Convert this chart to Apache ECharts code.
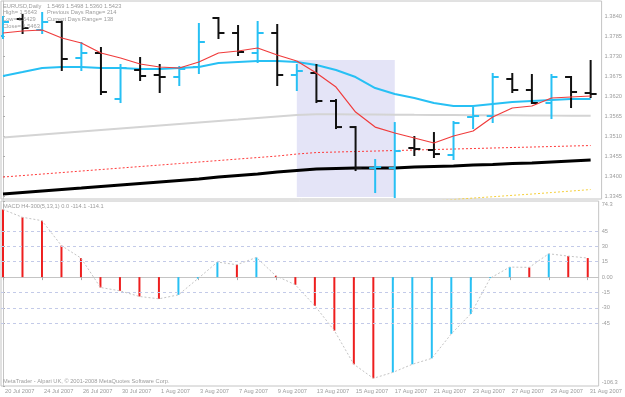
<!DOCTYPE html>
<html><head><meta charset="utf-8">
<script src="https://cdn.jsdelivr.net/npm/echarts@6.0.0/dist/echarts.min.js"></script>
<style>html,body{margin:0;padding:0;background:#fff}#c{width:625px;height:397px}</style>
</head><body><div id="c"></div>
<script>
// ---------- data ----------
const dates = ['20 Jul 2007','23 Jul 2007','24 Jul 2007','25 Jul 2007','26 Jul 2007','27 Jul 2007','30 Jul 2007','31 Jul 2007',
  '1 Aug 2007','2 Aug 2007','3 Aug 2007','6 Aug 2007','7 Aug 2007','8 Aug 2007','9 Aug 2007','10 Aug 2007',
  '13 Aug 2007','14 Aug 2007','15 Aug 2007','16 Aug 2007','17 Aug 2007','20 Aug 2007','21 Aug 2007','22 Aug 2007',
  '23 Aug 2007','24 Aug 2007','27 Aug 2007','28 Aug 2007','29 Aug 2007','30 Aug 2007','31 Aug 2007'];

const openP  = [1.37857,1.38323,1.38021,1.38241,1.37253,1.37391,1.36129,1.36924,1.36787,1.36732,1.37007,1.38351,1.37939,1.37391,1.37939,1.36787,1.36842,1.36074,1.35360,1.34236,1.34236,1.34785,1.34730,1.34593,1.35635,1.35662,1.36677,1.36376,1.36019,1.36732,1.36293];
const highP  = [1.38378,1.38433,1.38488,1.38250,1.37665,1.37528,1.37061,1.37253,1.37061,1.37007,1.38186,1.38351,1.38131,1.38241,1.38159,1.37061,1.37061,1.36101,1.35360,1.34455,1.35470,1.35086,1.35196,1.35498,1.35882,1.36815,1.36815,1.36787,1.36787,1.36732,1.37171];
const lowP   = [1.37802,1.37939,1.37939,1.36924,1.36924,1.36266,1.36046,1.36650,1.36321,1.36513,1.36842,1.37802,1.37336,1.37144,1.36513,1.36376,1.36046,1.35333,1.34181,1.33578,1.33441,1.34593,1.34538,1.34483,1.35333,1.35498,1.36321,1.36019,1.35607,1.35909,1.36184];
const closeP = [1.38241,1.38076,1.38241,1.37226,1.37391,1.36321,1.36979,1.36760,1.36732,1.36952,1.37692,1.37939,1.37418,1.37939,1.36787,1.36897,1.36074,1.35360,1.34236,1.34263,1.34702,1.34757,1.34620,1.35470,1.35662,1.36732,1.36376,1.36019,1.36732,1.36321,1.36266];

const maRed    = [1.37939,1.37994,1.38021,1.37802,1.37665,1.37391,1.37253,1.37089,1.37007,1.36979,1.37144,1.37391,1.37445,1.37528,1.37336,1.37171,1.36842,1.36458,1.35772,1.35360,1.35196,1.35059,1.34922,1.35114,1.35251,1.35635,1.35882,1.35937,1.36156,1.36184,1.36211];
const maCyan   = [1.36760,1.36869,1.36979,1.37007,1.37007,1.36979,1.36979,1.36952,1.36952,1.36979,1.37007,1.37116,1.37144,1.37171,1.37171,1.37144,1.37061,1.36924,1.36732,1.36430,1.36266,1.36156,1.36019,1.35937,1.35937,1.35992,1.36046,1.36074,1.36101,1.36129,1.36129];
const maGray   = [1.35073,1.35114,1.35155,1.35196,1.35237,1.35278,1.35320,1.35361,1.35402,1.35443,1.35484,1.35525,1.35566,1.35608,1.35649,1.35690,1.35709,1.35709,1.35706,1.35703,1.35698,1.35695,1.35693,1.35690,1.35687,1.35684,1.35682,1.35679,1.35676,1.35673,1.35671];
const maRedDot = [1.33989,1.34030,1.34071,1.34112,1.34154,1.34195,1.34236,1.34277,1.34318,1.34359,1.34401,1.34442,1.34483,1.34524,1.34565,1.34620,1.34661,1.34675,1.34689,1.34702,1.34716,1.34730,1.34744,1.34757,1.34771,1.34785,1.34799,1.34812,1.34826,1.34840,1.34853];
const maBlack  = [1.33523,1.33564,1.33605,1.33646,1.33687,1.33729,1.33770,1.33811,1.33852,1.33893,1.33934,1.33989,1.34030,1.34071,1.34126,1.34167,1.34209,1.34222,1.34236,1.34236,1.34236,1.34263,1.34277,1.34291,1.34318,1.34332,1.34359,1.34373,1.34401,1.34428,1.34455];
const maYellow = [null,null,null,null,null,null,null,null,null,null,null,null,null,null,null,null,null,null,null,null,null,1.33290,1.33331,1.33372,1.33413,1.33449,1.33487,1.33523,1.33564,1.33605,1.33646];

const macd       = [66,58.4,55.1,30.7,18.6,-10.1,-13.4,-18.9,-21.2,-17.3,-1.5,14.7,12.1,19.2,1.3,-7.5,-28,-52.2,-85.1,-98.8,-93,-85.1,-79.3,-55.4,-35.9,-1,9.8,9.5,22.8,20.5,18.6];
const macdSignal = [66,58.4,55.1,30.7,18.6,-10.1,-13.4,-18.9,-21.2,-17.3,-1.5,14.7,12.1,19.2,1.3,-7.5,-28,-52.2,-85.1,-98.8,-93,-85.1,-79.3,-55.4,-35.9,-1,9.8,9.5,22.8,20.5,18.6];

const priceTicks = [1.3840,1.3785,1.3730,1.3675,1.3620,1.3565,1.3510,1.3455,1.3400,1.3345];
const macdTicks  = [74.3,45,30,15,0,-15,-30,-45,-106.3];
const macdLevels = [45,30,15,-15,-30,-45];
const dateLabelIdx = [0,2,4,6,8,10,12,14,16,18,20,22,24,26,28,30];

const shade = {from: 15, to: 20, top: 1.3720, bottom: 1.3344};

const headerLeft  = ['EURUSD,Daily','High= 1.5643','Low= 1.5429','Close= 1.5463'];
const headerRight = ['1.5469 1.5498 1.5360 1.5423','Previous Days Range= 214','Current Days Range= 138'];
const macdTitle = 'MACD H4-300(5,13,1) 0.0 -114.1 -114.1';
const footer = 'MetaTrader - Alpari UK, \u00A9 2001-2008 MetaQuotes Software Corp.';

// ---------- styles ----------
const CYAN = '#27c0f4', BLACK = '#111', RED = '#ee1e1e', TXT = '#9c9c9c', BORDER = '#c4c4c4';
const FONT = 'Liberation Sans';
const FS = 5.7;

const pair = arr => arr.map((v, i) => [i, v == null ? '-' : v]);
const ohlc = dates.map((d, i) => [i, openP[i], highP[i], lowP[i], closeP[i]]);
const macdData = macd.map((v, i) => ({
  value: [i, v],
  itemStyle: {color: (i > 0 && v > macd[i - 1]) ? CYAN : RED}
}));

const X_MIN = -0.102, X_MAX = 30.56;
const macdMaxT = macdTicks[0], macdMinT = macdTicks[macdTicks.length - 1];

const option = {
  animation: false,
  backgroundColor: '#fff',
  textStyle: {fontFamily: FONT},
  title: [
    {left: 3, top: 2.5, padding: 0, text: headerLeft.join('\n'),
     textStyle: {fontSize: FS, lineHeight: 6.9, color: TXT, fontWeight: 'normal', fontFamily: FONT}},
    {left: 47, top: 2.5, padding: 0, text: headerRight.join('\n'),
     textStyle: {fontSize: FS, lineHeight: 6.9, color: TXT, fontWeight: 'normal', fontFamily: FONT}},
    {left: 3, top: 203, padding: 0, text: macdTitle,
     textStyle: {fontSize: FS, lineHeight: 7, color: TXT, fontWeight: 'normal', fontFamily: FONT}},
    {left: 3, top: 378, padding: 0, text: footer,
     textStyle: {fontSize: FS, lineHeight: 7, color: TXT, fontWeight: 'normal', fontFamily: FONT}}
  ],
  grid: [
    {left: 1, top: 1, width: 602, height: 198, show: true, borderColor: BORDER, borderWidth: 1, backgroundColor: 'transparent'},
    {left: 1, top: 201, width: 602, height: 185, show: true, borderColor: BORDER, borderWidth: 1, backgroundColor: 'transparent'}
  ],
  xAxis: [
    {type: 'value', gridIndex: 0, min: X_MIN, max: X_MAX, show: false},
    {type: 'value', gridIndex: 1, min: X_MIN, max: X_MAX, position: 'bottom',
     axisLine: {show: true, lineStyle: {color: BORDER}},
     axisTick: {show: true, length: 3, customValues: dateLabelIdx, lineStyle: {color: '#aaa'}},
     axisLabel: {show: true, customValues: dateLabelIdx, formatter: v => dates[Math.round(v)],
       align: 'left', margin: 2, padding: [0, 0, 0, 2], fontSize: FS, color: TXT, fontFamily: FONT,
       showMinLabel: true, showMaxLabel: true},
     splitLine: {show: false}}
  ],
  yAxis: [
    {type: 'value', gridIndex: 0, position: 'right', min: 1.333869, max: 1.388168, scale: true,
     axisLine: {show: true, lineStyle: {color: BORDER}},
     axisTick: {show: true, length: 2, customValues: priceTicks, lineStyle: {color: '#aaa'}},
     axisLabel: {show: true, customValues: priceTicks, formatter: v => Number(v).toFixed(4),
       margin: 3, fontSize: FS, color: TXT, fontFamily: FONT},
     splitLine: {show: false}},
    {type: 'value', gridIndex: 1, position: 'right', min: -106.3, max: 74.3,
     axisLine: {show: true, lineStyle: {color: BORDER}},
     axisTick: {show: true, length: 2, customValues: macdTicks, lineStyle: {color: '#aaa'}},
     axisLabel: {show: true, customValues: macdTicks,
       formatter: v => {
         if (Math.abs(v - macdMaxT) < 1e-6) return '{t|' + v + '}';
         if (Math.abs(v - macdMinT) < 1e-6) return '{b|' + v + '}';
         return v === 0 ? '0.00' : String(v);
       },
       rich: {
         t: {padding: [6, 0, 0, 0], fontSize: FS, color: TXT, fontFamily: FONT},
         b: {padding: [0, 0, 8, 0], fontSize: FS, color: TXT, fontFamily: FONT}
       },
       margin: 3, fontSize: FS, color: TXT, fontFamily: FONT},
     splitLine: {show: false}}
  ],
  series: [
    {type: 'line', name: 'gray', xAxisIndex: 0, yAxisIndex: 0, data: pair(maGray), showSymbol: false, z: 1,
     lineStyle: {color: '#d4d4d4', width: 2},
     markArea: {silent: true, itemStyle: {color: '#e4e4f7'},
       data: [[{xAxis: shade.from, yAxis: shade.top}, {xAxis: shade.to, yAxis: shade.bottom}]]}},
    {type: 'line', name: 'reddot', xAxisIndex: 0, yAxisIndex: 0, data: pair(maRedDot), showSymbol: false, z: 2,
     lineStyle: {color: '#ff3a3a', width: 1, type: [2, 2]}},
    {type: 'line', name: 'yellow', xAxisIndex: 0, yAxisIndex: 0, data: pair(maYellow), showSymbol: false, z: 2,
     lineStyle: {color: '#f5cf3a', width: 1, type: [2, 2]}},
    {type: 'line', name: 'black', xAxisIndex: 0, yAxisIndex: 0, data: pair(maBlack), showSymbol: false, z: 3,
     lineStyle: {color: '#000', width: 3}},
    {type: 'line', name: 'cyan', xAxisIndex: 0, yAxisIndex: 0, data: pair(maCyan), showSymbol: false, z: 3,
     lineStyle: {color: CYAN, width: 2}},
    {type: 'custom', name: 'ohlc', xAxisIndex: 0, yAxisIndex: 0, data: ohlc, z: 4, clip: true,
     encode: {x: 0, y: [1, 2, 3, 4]},
     renderItem: function (params, api) {
       const x = api.value(0);
       const o = api.coord([x, api.value(1)]);
       const h = api.coord([x, api.value(2)]);
       const l = api.coord([x, api.value(3)]);
       const c = api.coord([x, api.value(4)]);
       const color = api.value(4) >= api.value(1) ? CYAN : BLACK;
       const st = {stroke: color, lineWidth: 2};
       return {type: 'group', children: [
         {type: 'line', shape: {x1: h[0], y1: h[1] - 1, x2: l[0], y2: l[1] + 1}, style: st},
         {type: 'line', shape: {x1: o[0] - 6, y1: o[1], x2: o[0], y2: o[1]}, style: st},
         {type: 'line', shape: {x1: c[0], y1: c[1], x2: c[0] + 6, y2: c[1]}, style: st}
       ]};
     }},
    {type: 'line', name: 'red', xAxisIndex: 0, yAxisIndex: 0, data: pair(maRed), showSymbol: false, z: 5,
     lineStyle: {color: '#f03c3c', width: 1.2}},
    {type: 'bar', name: 'macd', xAxisIndex: 1, yAxisIndex: 1, data: macdData, barWidth: 2, z: 3,
     markLine: {silent: true, symbol: 'none', label: {show: false},
       lineStyle: {type: [3, 3], color: '#c3cae8', width: 1},
       data: macdLevels.map(v => ({yAxis: v}))}},
    {type: 'line', name: 'signal', xAxisIndex: 1, yAxisIndex: 1, data: pair(macdSignal), showSymbol: false, z: 4,
     lineStyle: {color: '#c4c4c4', width: 1, type: [2, 2]}}
  ]
};

const chart = echarts.init(document.getElementById('c'), null, {renderer: 'canvas'});
chart.setOption(option);
</script></body></html>
